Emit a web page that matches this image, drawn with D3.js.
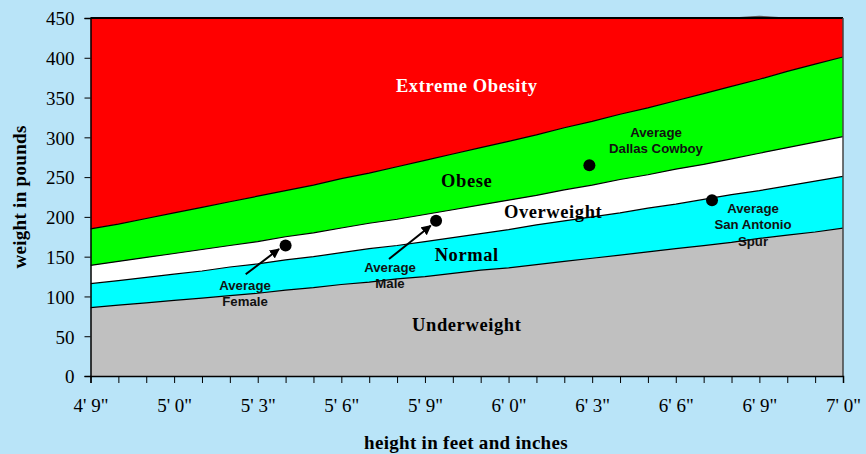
<!DOCTYPE html>
<html><head><meta charset="utf-8">
<script src="https://cdn.jsdelivr.net/npm/d3@7"></script>
<style>
html,body{margin:0;padding:0;background:#b9e4f8;}
svg{display:block;}
</style></head>
<body>
<svg id="chart" width="866" height="454"></svg>
<script>
// heights in inches (4'9" .. 7'0")
const heights = d3.range(57, 85);
// upper weight boundaries (lb) of each band, per inch
const underweightTop = [86,89,92,95,98,101,104,108,111,115,118,122,125,129,133,136,140,144,148,152,156,160,164,168,173,177,181,186];
const normalTop      = [116,120,124,128,132,137,141,146,150,155,160,164,169,174,179,184,190,195,200,205,211,216,222,228,233,239,245,251];
const overweightTop  = [139,144,149,154,159,164,169,175,180,186,192,197,203,209,215,221,227,234,240,247,253,260,266,273,280,287,294,301];
const obeseTop       = [185,191,198,205,212,219,226,233,240,248,255,263,271,279,287,295,303,312,320,329,337,346,355,364,373,383,392,401];
const extremeTop     = [450,450,450,450,450,450,450,450,450,450,450,450,450,450,450,450,450,450,450,450,450,450,450,450,452,450,450,450];

const bandNames  = ["Underweight","Normal","Overweight","Obese","Extreme Obesity"];
const bandColors = ["#c0c0c0","#00ffff","#ffffff","#00ff00","#ff0000"];
// label anchor: [height (in), weight (lb)]
const bandLabelPos = [[70.5,56],[70.5,144],[73.6,199],[70.5,237],[70.5,357]];

const points = [
  {name:["Average","Female"], h:64, w:164},
  {name:["Average","Male"], h:69.4, w:195},
  {name:["Average","Dallas Cowboy"], h:74.9, w:265},
  {name:["Average","San Antonio","Spur"], h:79.3, w:221}
];

const xTickLabels = ["4' 9\"","5' 0\"","5' 3\"","5' 6\"","5' 9\"","6' 0\"","6' 3\"","6' 6\"","6' 9\"","7' 0\""];
const yTicks = [0,50,100,150,200,250,300,350,400,450];

const svg = d3.select("#chart");
const L = 90.5, R = 843, T = 18, B = 376;
const x = d3.scaleLinear().domain([57,84]).range([L,R]);
const y = d3.scaleLinear().domain([0,450]).range([B,T]);

const tops = [underweightTop, normalTop, overweightTop, obeseTop, extremeTop];
const defs = svg.append("defs");
defs.append("clipPath").attr("id","clipTop").append("rect")
  .attr("x",L).attr("y",T-6).attr("width",R-L).attr("height",B-T+6);

const g = svg.append("g").attr("clip-path","url(#clipTop)");
tops.forEach((top,i)=>{
  const bottom = i===0 ? heights.map(()=>0) : tops[i-1];
  const area = d3.area()
    .x((d,j)=>x(heights[j]))
    .y0((d,j)=>y(bottom[j]))
    .y1((d,j)=>y(top[j]));
  g.append("path").datum(top).attr("d",area).attr("fill",bandColors[i]).attr("stroke","none");
});
tops.forEach((top,i)=>{
  const line = d3.line().x((d,j)=>x(heights[j])).y(d=>y(d));
  g.append("path").datum(top).attr("d",line).attr("fill","none")
    .attr("stroke", i===4 ? "#555" : "#000").attr("stroke-width",1.2);
});

// frame
svg.append("line").attr("x1",L).attr("x2",R).attr("y1",T).attr("y2",T).attr("stroke","#000").attr("stroke-width",2);
svg.append("line").attr("x1",R).attr("x2",R).attr("y1",T).attr("y2",B).attr("stroke","#444").attr("stroke-width",1.5);

// axes
const serif = "Liberation Serif, Times New Roman, serif";
const yAxis = d3.axisLeft(y).tickValues(yTicks).tickSize(6).tickPadding(10);
const yg = svg.append("g").attr("transform",`translate(${L},0)`).call(yAxis);
yg.select(".domain").attr("stroke","#000").attr("stroke-width",1.5);
yg.selectAll(".tick line").attr("stroke","#000");
yg.selectAll("text").attr("font-family",serif).attr("font-size",19).attr("fill","#000").attr("dy","0.36em");

const xAxis = d3.axisBottom(x).tickValues(heights).tickSize(7).tickPadding(12)
  .tickFormat(d => (d-57)%3===0 ? xTickLabels[(d-57)/3] : "");
const xg = svg.append("g").attr("transform",`translate(0,${B})`).call(xAxis);
xg.select(".domain").attr("stroke","#000").attr("stroke-width",1.5);
xg.selectAll(".tick line").attr("stroke","#000");
xg.selectAll("text").attr("font-family",serif).attr("font-size",19).attr("fill","#000").attr("dy","0.9em");

// axis titles
svg.append("text").attr("x",466).attr("y",449).attr("text-anchor","middle")
  .attr("font-family",serif).attr("font-weight","bold").attr("font-size",19).attr("letter-spacing","0.3px")
  .text("height in feet and inches");
svg.append("text").attr("transform","translate(26,197) rotate(-90)").attr("text-anchor","middle")
  .attr("font-family",serif).attr("font-weight","bold").attr("font-size",19).attr("letter-spacing","0.3px")
  .text("weight in pounds");

// band labels
bandLabelPos.forEach(([h,w],i)=>{
  svg.append("text").attr("x",x(h)).attr("y",y(w)).attr("text-anchor","middle")
    .attr("font-family",serif).attr("font-weight","bold").attr("font-size",18.5)
    .attr("fill", i===4 ? "#fff" : "#000").attr("letter-spacing","0.6px")
    .text(bandNames[i]);
});

// points
svg.selectAll("circle.pt").data(points).join("circle").attr("class","pt")
  .attr("cx",d=>x(d.h)).attr("cy",d=>y(d.w)).attr("r",6).attr("fill","#000");

// arrows
defs.append("marker").attr("id","arr").attr("viewBox","0 0 10 10").attr("refX",9).attr("refY",5)
  .attr("markerWidth",5).attr("markerHeight",5).attr("orient","auto")
  .append("path").attr("d","M0,0 L10,5 L0,10 z").attr("fill","#000");
const arrows = [[245.7,274.3,279,249],[389,259,430.7,225.7]];
arrows.forEach(a=>{
  svg.append("line").attr("x1",a[0]).attr("y1",a[1]).attr("x2",a[2]).attr("y2",a[3])
    .attr("stroke","#000").attr("stroke-width",2).attr("marker-end","url(#arr)");
});

// point labels
const labelPos = [[245,290],[390,272],[656,137],[753,213]];
points.forEach((p,i)=>{
  const t = svg.append("text").attr("text-anchor","middle")
    .attr("font-family","Liberation Sans, Arial, sans-serif").attr("font-weight","bold").attr("font-size",13.2).attr("fill","#111");
  p.name.forEach((line,k)=>{
    t.append("tspan").attr("x",labelPos[i][0]).attr("y",labelPos[i][1]+k*16.3).text(line);
  });
});
</script>
</body></html>
